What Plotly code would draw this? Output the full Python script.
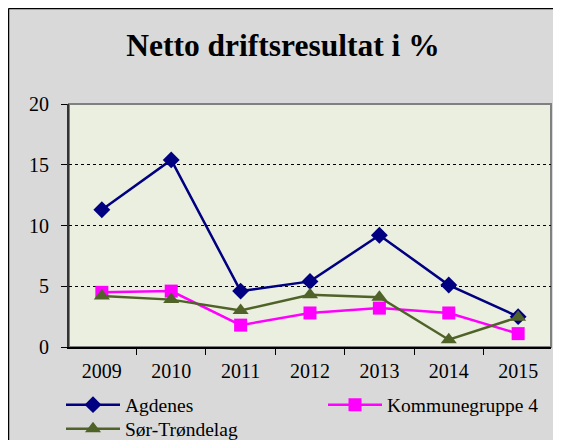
import plotly.graph_objects as go

years = ["2009", "2010", "2011", "2012", "2013", "2014", "2015"]
agdenes = [11.3, 15.4, 4.6, 5.4, 9.2, 5.1, 2.5]
kommunegruppe4 = [4.5, 4.6, 1.8, 2.8, 3.2, 2.8, 1.1]
sor_trondelag = [4.2, 3.9, 3.0, 4.3, 4.1, 0.6, 2.45]
y_ticks = [0, 5, 10, 15, 20]

# The page body adds an 8px margin; keep the figure inside the window.
OFF = 8
W, H = 561 - 2 * OFF, 448 - 2 * OFF
L, T = 69 - OFF, 104 - OFF
R = (561 - OFF) - 551
B = (448 - OFF) - 347
pw = W - L - R
ph = H - T - B

def px_x(p):  # reference pixel -> paper coord
    return (p - OFF - L) / pw

def px_y(p):
    return (H - B - (p - OFF)) / ph

def cx(p):  # reference pixel -> container coord
    return (p - OFF) / W

def cy(p):
    return 1 - (p - OFF) / H

font_family = "Liberation Serif, Tinos, Times New Roman, Times, serif"

fig = go.Figure()
fig.add_trace(go.Scatter(x=years, y=agdenes, name="Agdenes", mode="lines+markers",
                         line=dict(color="#000080", width=2.5),
                         marker=dict(symbol="diamond", size=13, color="#000080"),
                         legend="legend"))
fig.add_trace(go.Scatter(x=years, y=kommunegruppe4, name="Kommunegruppe 4", mode="lines+markers",
                         line=dict(color="#ff00ff", width=2.5),
                         marker=dict(symbol="square", size=13, color="#ff00ff"),
                         legend="legend2"))
fig.add_trace(go.Scatter(x=years, y=sor_trondelag, name="Sør-Trøndelag", mode="lines+markers",
                         line=dict(color="#4f6228", width=2.5),
                         marker=dict(symbol="triangle-up", size=14, color="#4f6228"),
                         legend="legend3"))

shapes = [
    dict(type="line", xref="paper", yref="paper", layer="below",
         x0=px_x(8.5), x1=px_x(600), y0=px_y(8.5), y1=px_y(8.5),
         line=dict(color="black", width=1.5)),
    dict(type="line", xref="paper", yref="paper", layer="below",
         x0=px_x(8.5), x1=px_x(8.5), y0=px_y(8.5), y1=px_y(500),
         line=dict(color="black", width=1.5)),
    dict(type="rect", xref="paper", yref="paper", layer="below",
         x0=0, x1=1, y0=0, y1=1,
         fillcolor="#ebefdf", line=dict(color="#808080", width=2)),
]

leg_common = dict(xanchor="left", yanchor="middle", xref="container", yref="container",
                  font=dict(family=font_family, size=19.5, color="black"),
                  bgcolor="rgba(0,0,0,0)", itemwidth=54, borderwidth=0)

fig.update_layout(
    width=W, height=H,
    margin=dict(l=L, r=R, t=T, b=B, pad=0, autoexpand=False),
    paper_bgcolor="#d9d9d9",
    plot_bgcolor="rgba(0,0,0,0)",
    shapes=shapes,
    font=dict(family=font_family, size=20, color="black"),
    title=dict(text="<b>Netto driftsresultat i %</b>", x=cx(283),
               xref="container", xanchor="center", y=cy(45), yref="container",
               yanchor="middle",
               font=dict(family=font_family, size=31.5, color="black")),
    showlegend=True,
    legend=dict(x=cx(61), y=cy(405), **leg_common),
    legend2=dict(x=cx(323), y=cy(405), **leg_common),
    legend3=dict(x=cx(61), y=cy(429), **leg_common),
    xaxis=dict(type="category", showgrid=False, ticks="outside", tickson="boundaries",
               ticklen=6, tickcolor="black", showline=True, linecolor="black", linewidth=2,
               tickfont=dict(family=font_family, size=20), ticklabelstandoff=5),
    yaxis=dict(range=[0, 20], tickvals=y_ticks, ticks="outside", ticklen=6, tickcolor="black",
               showline=True, linecolor="#333333", linewidth=2,
               showgrid=True, gridcolor="black", griddash="dot", gridwidth=1,
               zeroline=False, tickfont=dict(family=font_family, size=20), ticklabelstandoff=8),
)

fig.write_html("out.html")
